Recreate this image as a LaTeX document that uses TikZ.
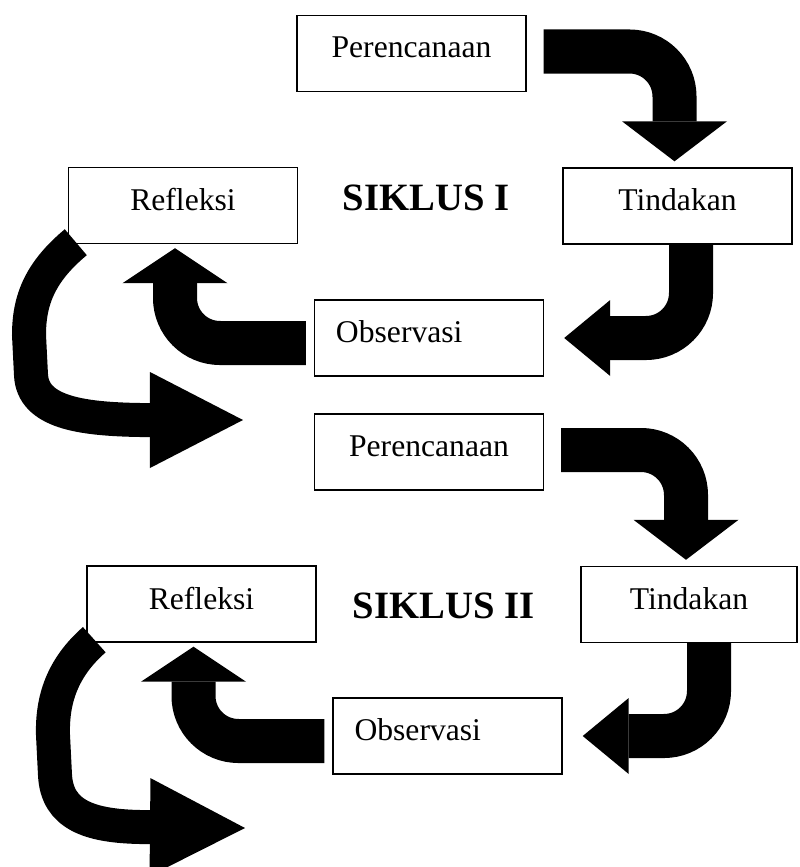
\documentclass[tikz,border=0pt]{standalone}
\usepackage{fontspec}
\setmainfont{Liberation Serif}
\usetikzlibrary{arrows.meta,calc}

\begin{document}
\begin{tikzpicture}[x=0.03cm,y=-0.03cm,
  kotak/.style={draw,rectangle,line width=1.2pt,minimum width=6.87cm,minimum height=2.28cm,text depth=0.36cm,font=\fontsize{27}{32}\selectfont},
  kiri/.style={text width=5.58cm,align=left,inner xsep=0.63cm},
  judul/.style={font=\fontsize{33}{40}\selectfont\bfseries},
  panah/.style={line width=1.32cm,rounded corners=1.35cm},
  lengkung/.style={line width=1.02cm}]
  % \draw[step=100,thin,gray!40] (0,0) grid (799,867);
  \useasboundingbox (0,0) rectangle (799,867);

  % siklus I
  \node[kotak] (perencanaanINode) at (411.5,53.5) {Perencanaan};
  \node[kotak] (tindakanINode) at (677.5,206) {Tindakan};
  \node[kotak] (refleksiINode) at (183,205.5) {Refleksi};
  \node[kotak,kiri] (observasiINode) at (429,338) {Observasi};
  \node[judul] (siklusINode) at (426,198) {SIKLUS I};

  % siklus II
  \node[kotak] (perencanaanIINode) at (429,452) {Perencanaan};
  \node[kotak,minimum width=6.48cm] (tindakanIINode) at (689,604.5) {Tindakan};
  \node[kotak] (refleksiIINode) at (201.5,604) {Refleksi};
  \node[kotak,kiri] (observasiIINode) at (447.5,736) {Observasi};
  \node[judul] (siklusIINode) at (443.5,606) {SIKLUS II};

  \coordinate (ujungI) at (243,420);
  \coordinate (ujungII) at (245,828);

  \draw[panah,-{Triangle[width=3.15cm,length=1.2cm,line width=0pt]}] ([xshift=0.51cm,yshift=0.06cm]perencanaanINode.east) -| ([xshift=-0.09cm,yshift=0.18cm]tindakanINode.north);
  \draw[panah,-{Triangle[width=2.28cm,length=1.38cm,line width=0pt]}] ([xshift=0.405cm]tindakanINode.south) |- ([xshift=0.6cm]observasiINode.east);
  \draw[panah,-{Triangle[width=3.15cm,length=1.05cm,line width=0pt]}] ([xshift=-0.24cm,yshift=-0.15cm]observasiINode.west) -| ([xshift=-0.24cm,yshift=-0.12cm]refleksiINode.south);
  \draw[lengkung,-{Triangle[width=2.88cm,length=2.79cm,line width=0pt]}] ([xshift=0.24cm,yshift=0.06cm]refleksiINode.south west) .. controls (40,272) and (29,300) .. (29,335) -- (31,375) .. controls (33,412) and (80,419) .. (140,420) -- (ujungI);

  \draw[panah,-{Triangle[width=3.15cm,length=1.2cm,line width=0pt]}] ([xshift=0.51cm,yshift=0.06cm]perencanaanIINode.east) -| ([xshift=-0.09cm,yshift=0.18cm]tindakanIINode.north);
  \draw[panah,-{Triangle[width=2.28cm,length=1.38cm,line width=0pt]}] ([xshift=0.6cm]tindakanIINode.south) |- ([xshift=0.6cm]observasiIINode.east);
  \draw[panah,-{Triangle[width=3.15cm,length=1.05cm,line width=0pt]}] ([xshift=-0.24cm,yshift=-0.15cm]observasiIINode.west) -| ([xshift=-0.24cm,yshift=-0.12cm]refleksiIINode.south);
  \draw[lengkung,-{Triangle[width=2.94cm,length=2.85cm,line width=0pt]}] ([xshift=0.24cm,yshift=0.09cm]refleksiIINode.south west) .. controls (62,668) and (52,700) .. (53,735) -- (55,775) .. controls (57,815) and (90,826) .. (140,827) -- (ujungII);
\end{tikzpicture}
\end{document}
